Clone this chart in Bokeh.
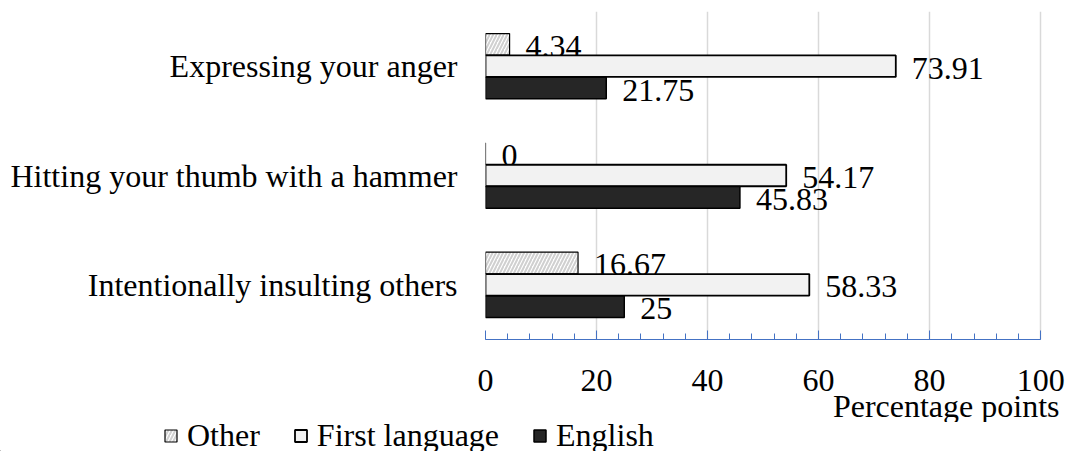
from bokeh.plotting import figure
from bokeh.layouts import column
from bokeh.models import (ColumnDataSource, Range1d, FactorRange, SingleIntervalTicker,
                          Legend, LegendItem, Title)
from bokeh.transform import dodge
from bokeh.core.properties import value
from bokeh.embed import file_html
from bokeh.resources import INLINE

categories = ["Intentionally insulting others", "Hitting your thumb with a hammer", "Expressing your anger"]
other = [16.67, 0, 4.34]
first_language = [58.33, 54.17, 73.91]
english = [25, 45.83, 21.75]
other_labels = ["16.67", "0", "4.34"]
first_labels = ["58.33", "54.17", "73.91"]
english_labels = ["25", "45.83", "21.75"]
series_names = ["Other", "First language", "English"]
axis_title = "Percentage points"

FONT = "Liberation Serif"
FS = "32px"

src = ColumnDataSource(dict(cat=categories, other=other, first=first_language, english=english,
                            ol=other_labels, fl=first_labels, el=english_labels))

STY_OTHER = dict(fill_color="white", line_color="black", line_width=1.2,
                 hatch_pattern="/", hatch_color="#d0d0d0", hatch_scale=7, hatch_weight=2)
STY_FIRST = dict(fill_color="#f2f2f2", line_color="black", line_width=1.8)
STY_ENG = dict(fill_color="#262626", line_color="black", line_width=1.5)

p = figure(width=1071, height=422, y_range=FactorRange(*categories, range_padding=0),
           x_range=Range1d(0, 103.4), output_backend="svg", toolbar_location=None,
           min_border_left=485, min_border_right=12, min_border_top=11, min_border_bottom=83)
p.outline_line_color = None
p.background_fill_color = "white"
p.frame_align = False

H = 0.197
p.hbar(y=dodge("cat", 0.2, range=p.y_range), right="other", left=0, height=H, source=src, **STY_OTHER)
p.text(x="other", y=dodge("cat", 0.2, range=p.y_range), text="ol", source=src,
       x_offset=16, y_offset=2, text_align="left", text_baseline="middle",
       text_font=value(FONT), text_font_size=FS, text_color="black")
p.hbar(y=dodge("cat", 0.0, range=p.y_range), right="first", left=0, height=H, source=src, **STY_FIRST)
p.text(x="first", y=dodge("cat", 0.0, range=p.y_range), text="fl", source=src,
       x_offset=16, y_offset=2, text_align="left", text_baseline="middle",
       text_font=value(FONT), text_font_size=FS, text_color="black")
p.hbar(y=dodge("cat", -0.2, range=p.y_range), right="english", left=0, height=H, source=src, **STY_ENG)
p.text(x="english", y=dodge("cat", -0.2, range=p.y_range), text="el", source=src,
       x_offset=16, y_offset=2, text_align="left", text_baseline="middle",
       text_font=value(FONT), text_font_size=FS, text_color="black")

# x axis
xa = p.xaxis[0]
xa.ticker = SingleIntervalTicker(interval=20, num_minor_ticks=5)
xa.bounds = (0, 100)
xa.axis_line_color = "#4472c4"
xa.axis_line_width = 1.2
xa.major_tick_line_color = "#4472c4"
xa.minor_tick_line_color = "#4472c4"
xa.major_tick_in = 9
xa.major_tick_out = 0
xa.minor_tick_in = 6
xa.minor_tick_out = 0
xa.major_label_standoff = 30
xa.major_label_text_font = FONT
xa.major_label_text_font_size = FS
xa.major_label_text_color = "black"

# y axis
ya = p.yaxis[0]
ya.axis_line_color = None
ya.major_tick_line_color = None
ya.minor_tick_line_color = None
ya.major_tick_in = 0
ya.major_tick_out = 0
ya.major_label_standoff = 28
ya.major_label_text_font = FONT
ya.major_label_text_font_size = FS
ya.major_label_text_color = "black"

p.xgrid.grid_line_color = "#d9d9d9"
p.xgrid.grid_line_width = 1.5
p.ygrid.grid_line_color = None

p.add_layout(Title(text=axis_title, align="right", offset=0, standoff=-16,
                   text_font=FONT, text_font_size=FS, text_font_style="normal",
                   text_color="black"), "below")

# legend strip
lf = figure(width=1071, height=29, x_range=Range1d(0, 1), y_range=Range1d(0, 1),
            output_backend="svg", toolbar_location=None, x_axis_type=None, y_axis_type=None,
            min_border=0)
lf.frame_align = False
lf.outline_line_color = None
lf.grid.grid_line_color = None
proxy = ColumnDataSource(dict(y=[-50], left=[-60], right=[-50]))
lr1 = lf.hbar(y="y", right="right", left="left", height=0.1, source=proxy, **STY_OTHER)
lr2 = lf.hbar(y="y", right="right", left="left", height=0.1, source=proxy, **STY_FIRST)
lr3 = lf.hbar(y="y", right="right", left="left", height=0.1, source=proxy, **STY_ENG)
legend = Legend(items=[LegendItem(label=series_names[0], renderers=[lr1]),
                       LegendItem(label=series_names[1], renderers=[lr2]),
                       LegendItem(label=series_names[2], renderers=[lr3])],
                orientation="horizontal", location=(163, -3),
                glyph_width=15, glyph_height=15, label_standoff=9, spacing=33,
                padding=0, margin=0, border_line_color=None, background_fill_alpha=0,
                label_text_font=FONT, label_text_font_size=FS, label_text_color="black",
                label_text_baseline="middle")
lf.add_layout(legend, "center")

open("out.html", "w").write(file_html(column(p, lf, spacing=0), INLINE))
